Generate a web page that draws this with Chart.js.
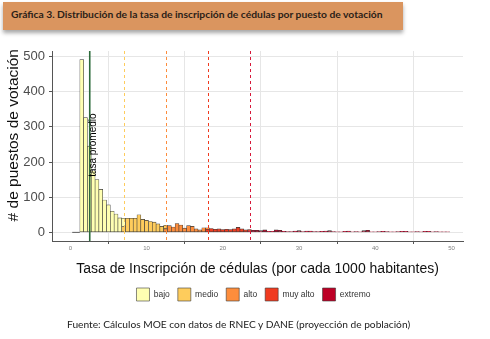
<!DOCTYPE html>
<html lang="es">
<head>
  <meta charset="UTF-8" />
  <title>Gráfica 3</title>
  <script src="https://cdn.jsdelivr.net/npm/chart.js"></script>
  <style>
    body {
      margin: 0;
      width: 490px;
      height: 339px;
      background: #fff;
      position: relative;
      overflow: hidden;
    }
    #titulo {
      position: absolute;
      left: 3px;
      top: 2px;
      width: 400px;
      height: 28px;
      background: #DA955F;
      box-shadow: 0 3px 4px rgba(0,0,0,0.35);
      font-family: Lato, "Open Sans", sans-serif;
      font-weight: bold;
      font-size: 10.3px;
      line-height: 25px;
      color: #2b2118;
      padding-left: 8px;
      box-sizing: border-box;
      white-space: nowrap;
    }
    #fuente {
      position: absolute;
      left: 67px;
      top: 318px;
      font-family: Lato, "Open Sans", sans-serif;
      font-size: 10.2px;
      color: #222;
      white-space: nowrap;
    }
    #grafica {
      position: absolute;
      left: 0;
      top: 0;
    }
  </style>
</head>
<body>
  <div id="titulo">Gráfica 3. Distribución de la tasa de inscripción de cédulas por puesto de votación</div>
  <canvas id="grafica" width="490" height="339"></canvas>
  <div id="fuente">Fuente: Cálculos MOE con datos de RNEC y DANE (proyección de población)</div>

  <script>
    // centros de los intervalos del histograma (ancho 0.5)
    const binMid = [
      0.5, 1, 1.5, 2, 2.5, 3, 3.5, 4, 4.5, 5, 5.5, 6, 6.5, 7, 7.5, 8, 8.5, 9, 9.5, 10,
      10.5, 11, 11.5, 12, 12.5, 13, 13.5, 14, 14.5, 15, 15.5, 16, 16.5, 17, 17.5, 18, 18.5, 19, 19.5, 20,
      20.5, 21, 21.5, 22, 22.5, 23, 23.5, 24, 24.5, 25, 25.5, 26, 26.5, 27, 27.5, 28, 28.5, 29, 29.5, 30,
      30.5, 31, 31.5, 32, 32.5, 33, 33.5, 34, 34.5, 35, 35.5, 36, 36.5, 37, 37.5, 38, 38.5, 39, 39.5, 40,
      40.5, 41, 41.5, 42, 42.5, 43, 43.5, 44, 44.5, 45, 45.5, 46, 46.5, 47, 47.5, 48, 48.5, 49, 49.5
    ];

    const niveles = ["bajo", "medio", "alto", "muy alto", "extremo"];
    // primer intervalo de cada nivel
    const inicioNivel = [0.5, 7, 12.5, 18, 23.5];

    // número de puestos por intervalo, para cada nivel
    const countBajo = [0, 0, 491, 326, 245, 175, 150, 122, 92, 78, 60, 52, 41, 24];
    const countMedio = [16, 40, 40, 40, 50, 37, 34, 31, 29, 24, 17, 10];
    const countAlto = [10, 19, 15, 25, 21, 12, 19, 17, 10, 7, 13, 4];
    const countMuyAlto = [9, 11, 9, 10, 8, 9, 8, 10, 14, 10, 7, 4];
    const countExtremo = [
      4, 6, 6, 5, 7, 3, 3, 7, 6, 3, 2, 2, 4, 5, 2, 4, 4, 2, 2, 3,
      4, 5, 2, 1, 1, 3, 4, 1, 2, 1, 5, 6, 1, 1, 2, 3, 2, 1, 1, 2,
      3, 3, 1, 1, 2, 1, 3, 3, 1, 2, 1, 1, 1
    ];

    const tasaPromedio = 2.55;
    const umbrales = [7.05, 12.6, 18.06, 23.6];
    const xTicks = [0, 10, 20, 30, 40, 50];
    const yTicks = [0, 100, 200, 300, 400, 500];

    const coloresNivel = ["#FFFFB2", "#FECC5C", "#FD8D3C", "#F03B20", "#BD0026"];
    const coloresUmbral = ["#FECC5C", "#FD8D3C", "#F03B20", "#D7193A"];

    const counts = [countBajo, countMedio, countAlto, countMuyAlto, countExtremo];

    function serie(n) {
      const start = binMid.indexOf(inicioNivel[n]);
      return counts[n].map((c, i) => ({ x: binMid[start + i], y: c }));
    }

    // extremo primero para que quede abajo en la pila; la leyenda se invierte
    const datasets = [4, 3, 2, 1, 0].map(n => ({
      label: niveles[n],
      data: serie(n),
      backgroundColor: coloresNivel[n],
      borderColor: "#3a3a3a",
      borderWidth: 0.6,
      borderSkipped: false,
      categoryPercentage: 1,
      barPercentage: 1
    }));

    // líneas verticales y texto de la tasa promedio
    const lineasPlugin = {
      id: "lineas",
      afterLayout(chart) {
        // leyenda centrada bajo el panel
        chart.legend.left += 22;
        chart.legend.right += 22;
      },
      afterDatasetsDraw(chart) {
        const ctx = chart.ctx;
        const xs = chart.scales.x;
        const ys = chart.scales.y;
        const area = chart.chartArea;
        ctx.save();

        // intervalos vacíos: línea plana en cero
        chart.data.datasets.forEach((ds, di) => {
          const meta = chart.getDatasetMeta(di);
          meta.data.forEach((bar, i) => {
            if (ds.data[i].y === 0) {
              ctx.strokeStyle = "#3a3a3a";
              ctx.lineWidth = 0.8;
              ctx.beginPath();
              ctx.moveTo(bar.x - bar.width / 2, ys.getPixelForValue(0));
              ctx.lineTo(bar.x + bar.width / 2, ys.getPixelForValue(0));
              ctx.stroke();
            }
          });
        });

        ctx.lineWidth = 1;
        ctx.setLineDash([3, 3]);
        umbrales.forEach((u, i) => {
          const px = Math.round(xs.getPixelForValue(u)) + 0.5;
          ctx.strokeStyle = coloresUmbral[i];
          ctx.beginPath();
          ctx.moveTo(px, area.top);
          ctx.lineTo(px, area.bottom);
          ctx.stroke();
        });

        ctx.setLineDash([]);
        const pm = xs.getPixelForValue(tasaPromedio);
        ctx.strokeStyle = "#2E6B3C";
        ctx.lineWidth = 1.6;
        ctx.beginPath();
        ctx.moveTo(pm, area.top);
        ctx.lineTo(pm, area.bottom);
        ctx.stroke();

        ctx.translate(pm - 1, ys.getPixelForValue(248));
        ctx.rotate(-Math.PI / 2);
        ctx.fillStyle = "#000";
        ctx.font = "10px 'Liberation Sans', Arial, sans-serif";
        ctx.textAlign = "center";
        ctx.textBaseline = "top";
        ctx.fillText("tasa promedio", 0, 0);
        ctx.restore();
      }
    };

    new Chart(document.getElementById("grafica"), {
      type: "bar",
      data: { datasets: datasets },
      plugins: [lineasPlugin],
      options: {
        responsive: false,
        animation: false,
        layout: { padding: { top: 51, right: 27, left: 0, bottom: 28 } },
        font: { family: "'Liberation Sans', Arial, sans-serif" },
        plugins: {
          tooltip: { enabled: false },
          legend: {
            position: "bottom",
            reverse: true,
            labels: {
              boxWidth: 13,
              boxHeight: 13,
              padding: 8,
              color: "#333",
              font: { family: "'Liberation Sans', Arial, sans-serif", size: 8.5 }
            }
          }
        },
        scales: {
          x: {
            type: "linear",
            stacked: true,
            offset: false,
            min: -2.4,
            max: 51.5,
            afterFit: s => { s.height = 39; },
            afterBuildTicks: s => { s.ticks = xTicks.map(v => ({ value: v })); },
            ticks: {
              color: "#7F7F7F",
              padding: 1,
              maxRotation: 0,
              font: { family: "'Liberation Sans', Arial, sans-serif", size: 6 }
            },
            grid: { color: "#E6E6E6", tickColor: "#555", tickLength: 3 },
            border: { display: true, color: "#555", width: 1 },
            title: {
              display: true,
              text: "Tasa de Inscripción de cédulas (por cada 1000 habitantes)",
              color: "#111",
              padding: { top: 0, bottom: 2 },
              font: { family: "'Liberation Sans', Arial, sans-serif", size: 14 }
            }
          },
          y: {
            stacked: true,
            min: -24.5,
            max: 515.5,
            afterFit: s => { s.width = 52; },
            afterBuildTicks: s => { s.ticks = yTicks.map(v => ({ value: v })); },
            ticks: {
              color: "#4D4D4D",
              padding: 4,
              font: { family: "'Liberation Sans', Arial, sans-serif", size: 13 }
            },
            grid: { color: "#E6E6E6", tickColor: "#555", tickLength: 3 },
            border: { display: true, color: "#555", width: 1 },
            title: {
              display: true,
              text: "     # de puestos de votación",
              color: "#111",
              padding: { top: 4, bottom: 0 },
              font: { family: "'Liberation Sans', Arial, sans-serif", size: 15.5 }
            }
          }
        }
      }
    });
  </script>
</body>
</html>
